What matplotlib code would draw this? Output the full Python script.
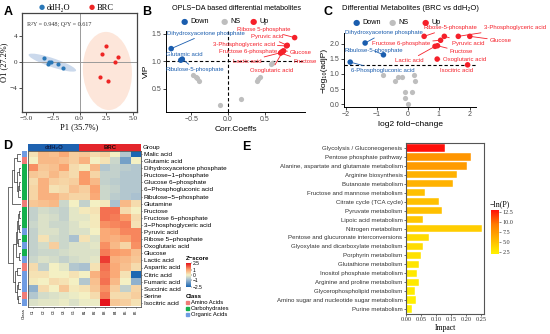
import numpy as np
import matplotlib
matplotlib.use("Agg")
import matplotlib.pyplot as plt
from matplotlib.patches import Ellipse, Rectangle
from matplotlib.colors import LinearSegmentedColormap, ListedColormap

W, H = 550, 334
SANS = ['Liberation Sans', 'DejaVu Sans']
SERIF = ['Liberation Serif', 'DejaVu Serif']

# ---- A: OPLS-DA scores ----
a_ctrl_x = [-3.38, -3.00, -2.82, -2.69, -1.98, -1.51]
a_ctrl_y = [0.56, -0.30, 0.00, 0.05, -0.30, -0.92]
a_brc_x = [2.48, 2.13, 3.66, 3.32, 1.92, 2.63]
a_brc_y = [2.36, 1.18, 0.82, 0.00, -2.26, -2.87]

# ---- B: VIP vs correlation ----
b_names = ["Dihydroxyacetone phosphate", "Glutamic acid", "Ribulose-5-phosphate",
           "Ribose 5-phosphate", "Pyruvic acid", "3-Phosphoglyceric acid",
           "Fructose 6-phosphate", "Lactic acid", "Oxoglutaric acid", "Glucose", "Fructose"]
b_corr = [-0.77, -0.64, -0.62, 0.90, 0.80, 0.79, 0.73, 0.72, 0.74, 0.75, 0.71]
b_vip = [1.23, 1.02, 1.04, 1.43, 1.29, 1.28, 1.17, 1.16, 1.18, 1.19, 1.15]
b_status = ["Down"] * 3 + ["Up"] * 8
b_ns_corr = [-0.47, -0.42, -0.39, -0.44, -0.11, 0.17, 0.39, 0.41, 0.43, 0.59, 0.58]
b_ns_vip = [0.76, 0.70, 0.64, 0.72, 0.20, 0.32, 0.65, 0.68, 0.72, 0.97, 0.95]
# label anchor (text position in data units), ha
b_lab = [(-0.82, 1.51, 'left'), (-0.84, 1.13, 'left'), (-0.84, 0.85, 'left'),
         (0.84, 1.58, 'right'), (0.75, 1.45, 'right'), (0.63, 1.31, 'right'),
         (0.67, 1.18, 'right'), (0.45, 1.00, 'right'), (0.30, 0.84, 'left'),
         (0.84, 1.16, 'left'), (0.88, 1.00, 'left')]

# ---- C: volcano ----
c_names = ["Dihydroxyacetone phosphate", "Ribulose-5-phosphate", "6-Phosphogluconic acid",
           "Ribose-5-phosphate", "Pyruvic acid", "3-Phosphoglyceric acid", "Glucose",
           "Fructose 6-phosphate", "Fructose", "Lactic acid", "Oxoglutaric acid", "Isocitric acid"]
c_fc = [-1.37, -0.78, -1.85, 0.53, 1.18, 1.63, 2.00, 1.06, 0.96, 0.88, 0.95, 1.93]
c_p = [2.02, 1.63, 1.39, 2.24, 2.24, 2.24, 2.24, 2.11, 1.93, 1.91, 1.49, 1.30]
c_status = ["Down"] * 3 + ["Up"] * 9
c_ns_fc = [-0.78, -0.41, -0.30, -0.19, 0.21, 0.23, -0.09, 0.15, -0.09, 0.02]
c_ns_p = [0.95, 0.77, 0.89, 0.89, 0.95, 0.77, 0.40, 0.40, 0.22, 0.02]
c_lab = [(-2.02, 2.36, 'left'), (-2.02, 1.76, 'left'), (-1.82, 1.10, 'left'),
         (0.50, 2.53, 'left'), (1.42, 2.02, 'left'), (2.45, 2.53, 'left'),
         (2.65, 2.10, 'left'), (0.72, 2.00, 'right'), (1.36, 1.73, 'left'),
         (0.50, 1.43, 'right'), (1.13, 1.47, 'left'), (1.04, 1.12, 'left')]

# ---- D: heatmap ----
d_rows = ["Malic acid", "Glutamic acid", "Dihydroxyacetone phosphate", "Fructose\u22121\u2212phosphate",
          "Glucose 6\u2212phosphate", "6\u2212Phosphogluconic acid", "Ribulose\u22125\u2212phosphate",
          "Glutamine", "Fructose", "Fructose 6\u2212phosphate", "3\u2212Phosphoglyceric acid",
          "Pyruvic acid", "Ribose 5\u2212phosphate", "Oxoglutaric acid", "Glucose", "Lactic acid",
          "Aspartic acid", "Citric acid", "Fumaric acid", "Succinic acid", "Serine", "Isocitric acid"]
d_class = ["Organic Acids", "Amino Acids", "Carbohydrates", "Carbohydrates", "Carbohydrates",
           "Carbohydrates", "Carbohydrates", "Amino Acids", "Carbohydrates", "Carbohydrates",
           "Carbohydrates", "Organic Acids", "Carbohydrates", "Organic Acids", "Carbohydrates",
           "Organic Acids", "Amino Acids", "Organic Acids", "Organic Acids", "Organic Acids",
           "Amino Acids", "Organic Acids"]
d_groups = ["ddH2O"] * 5 + ["BRC"] * 6
d_cols = ["C1", "C2", "C3", "C4", "C5", "B1", "B2", "B3", "B4", "B5", "B6"]
d_z = [
    [0.2, 0.8, 0.7, 1.0, 0.5, 0.6, 0.3, 0.5, 0.0, -0.8, -2.5],
    [0.0, 0.8, 0.8, 0.7, 0.5, 0.9, 0.0, 0.2, -0.5, -1.5, 0.0],
    [1.3, 0.6, 0.7, 1.1, 0.3, 0.1, 0.8, -0.8, -0.6, -0.7, -0.8],
    [0.6, 0.5, 0.8, 0.5, 0.3, 1.2, 0.4, -0.6, -0.6, -0.8, -0.8],
    [0.3, 0.9, 0.5, 0.4, 0.5, 1.2, 0.8, -0.6, -0.7, -0.8, -0.8],
    [0.4, 0.9, 0.2, 0.3, 0.7, 0.5, 1.1, -0.5, -0.6, -0.8, -0.8],
    [0.4, 0.9, 0.9, 0.6, 0.4, 0.4, 1.0, -0.5, -0.7, -0.8, -0.9],
    [0.6, 0.7, 0.8, -0.5, 0.0, -0.6, 0.0, 0.1, -0.9, 0.8, 0.3],
    [-0.6, -0.4, -0.5, -0.6, -0.2, 0.1, 0.2, 1.6, 1.6, 0.3, 0.0],
    [-0.6, -0.3, -0.4, -0.6, -0.2, -0.2, 0.1, 1.6, 1.5, 1.2, 0.3],
    [-0.5, -0.3, -0.5, -0.5, -0.3, -0.1, 0.1, 1.3, 1.4, 1.5, 0.2],
    [-0.6, -0.3, -0.3, -0.5, -0.3, -0.3, 0.0, 1.0, 1.1, 1.4, 1.4],
    [-0.6, 0.2, -0.4, -0.5, -0.9, 0.2, -0.3, 1.0, 0.9, 1.1, 1.4],
    [-0.6, -0.4, 0.5, -0.5, -0.3, -0.3, -0.2, 1.3, 0.8, 0.4, 1.3],
    [-0.6, -0.5, -0.5, -0.4, -0.3, -0.3, -0.3, 1.5, 1.2, 1.1, 0.7],
    [-0.5, -0.3, -0.4, -0.6, -0.4, -0.3, -0.2, 2.1, 0.9, 0.8, 0.6],
    [0.3, -0.6, 0.0, -0.2, -0.8, -0.9, 0.2, 1.6, 1.0, 0.7, 0.3],
    [0.2, 0.2, 0.0, 0.0, 0.2, 0.0, 0.9, 1.5, 1.0, 0.2, -2.5],
    [0.1, 0.0, 0.3, 0.2, 0.0, -0.8, 0.7, 1.6, 0.8, 0.0, -1.2],
    [-1.2, 0.3, 0.0, 0.6, 0.1, 0.2, 0.6, 1.3, 0.5, -0.6, 0.4],
    [-0.8, -0.4, -0.3, -0.2, -0.1, 0.0, 0.3, 1.5, 0.3, 0.3, 0.5],
    [-0.3, -0.2, -0.2, -0.1, -0.3, -0.1, -0.1, 2.5, 0.6, 0.5, 0.2],
]
# row dendrogram merges: (node_a, node_b, height); leaves 0..21, new nodes from 22
d_merges = [(0, 1, 0.35), (2, 3, 0.15), (4, 5, 0.12), (24, 6, 0.2), (23, 25, 0.32),
            (22, 26, 0.55), (27, 7, 0.7), (8, 9, 0.12), (10, 11, 0.15), (29, 30, 0.25),
            (12, 13, 0.2), (31, 32, 0.35), (14, 15, 0.18), (33, 34, 0.42), (16, 17, 0.3),
            (18, 19, 0.22), (20, 21, 0.25), (37, 38, 0.35), (36, 39, 0.45), (35, 40, 0.6),
            (28, 41, 1.0)]

# ---- E: pathway impact ----
e_paths = ["Glycolysis / Gluconeogenesis", "Pentose phosphate pathway",
           "Alanine, aspartate and glutamate metabolism", "Arginine biosynthesis",
           "Butanoate metabolism", "Fructose and mannose metabolism", "Citrate cycle (TCA cycle)",
           "Pyruvate metabolism", "Lipoic acid metabolism", "Nitrogen metabolism",
           "Pentose and glucuronate interconversions", "Glyoxylate and dicarboxylate metabolism",
           "Porphyrin metabolism", "Glutathione metabolism", "Inositol phosphate metabolism",
           "Arginine and proline metabolism", "Glycerophospholipid metabolism",
           "Amino sugar and nucleotide sugar metabolism", "Purine metabolism"]
e_impact = [0.129, 0.218, 0.204, 0.171, 0.157, 0.064, 0.109, 0.120, 0.055, 0.252,
            0.077, 0.055, 0.050, 0.041, 0.036, 0.044, 0.030, 0.033, 0.019]
e_nlp = [12.8, 7.6, 7.2, 5.9, 5.8, 5.0, 5.0, 5.0, 4.6, 4.2,
         3.4, 3.3, 3.0, 2.8, 2.6, 2.6, 2.4, 2.3, 2.1]
e_highlight = 3

C_DOWN, C_NS, C_UP = '#1A5DAE', '#BEBEBE', '#F5202A'
C_CTRL, C_BRC = '#2A78B8', '#EE2524'

fig = plt.figure(figsize=(W / 100, H / 100), dpi=100)


def ax_px(x0, y0, x1, y1):
    return fig.add_axes([x0 / W, 1 - y1 / H, (x1 - x0) / W, (y1 - y0) / H])


def ftext(x, y, s, **kw):
    return fig.text(x / W, 1 - y / H, s, **kw)


# ================= A =================
axA = ax_px(22, 13, 137, 112)
axA.add_patch(Ellipse((-2.55, -0.12), 5.1, 1.25, angle=-30, facecolor='#CBD9EC',
                      edgecolor='none', zorder=0))
axA.add_patch(Ellipse((2.62, -1.4), 4.6, 12.0, angle=1.5, facecolor='#FDE6DA',
                      edgecolor='none', zorder=0))
axA.axhline(0, color='#9A9A9A', lw=0.7, zorder=1)
axA.axvline(0, color='#9A9A9A', lw=0.7, zorder=1)
axA.scatter(a_ctrl_x, a_ctrl_y, s=9, color=C_CTRL, zorder=3, linewidths=0)
axA.scatter(a_brc_x, a_brc_y, s=9, color=C_BRC, zorder=3, linewidths=0)
axA.set_xlim(-5.4, 5.4)
axA.set_ylim(-7.7, 7.5)
axA.set_xticks([-5, -2.5, 0, 2.5, 5])
axA.set_yticks([-4, 0, 4])
axA.set_xticklabels(['\u22125.0', '\u22122.5', '0.0', '2.5', '5.0'])
axA.set_yticklabels(['\u22124', '0', '4'])
axA.tick_params(labelsize=5.2, length=2, width=0.6, pad=1.2, colors='#333333')
for lbl in axA.get_xticklabels() + axA.get_yticklabels():
    lbl.set_family(SERIF)
for sp in axA.spines.values():
    sp.set_color('#444444')
    sp.set_linewidth(0.9)
axA.set_xlabel('P1 (35.7%)', family=SERIF, fontsize=6, labelpad=1)
axA.set_ylabel('O1 (27.2%)', family=SERIF, fontsize=6, labelpad=1)
axA.text(0.04, 0.88, 'R\u00b2Y = 0.948; Q\u00b2Y = 0.617', transform=axA.transAxes,
         family=SERIF, fontsize=4.4, color='#333333', va='center')
ftext(42, 7.5, '\u25cf', color=C_CTRL, fontsize=5, ha='center', va='center')
ftext(46.5, 7.5, 'ddH\u2082O', family=SERIF, fontsize=6, va='center')
ftext(92, 7.5, '\u25cf', color=C_BRC, fontsize=5, ha='center', va='center')
ftext(97, 7.5, 'BRC', family=SERIF, fontsize=6, va='center')

# ================= B / C =================
def style_gg(ax):
    for s in ['top', 'right']:
        ax.spines[s].set_visible(False)
    for s in ['left', 'bottom']:
        ax.spines[s].set_linewidth(0.7)
    ax.tick_params(labelsize=5, length=2, width=0.6, pad=1.2, colors='#222222')
    for lbl in ax.get_xticklabels() + ax.get_yticklabels():
        lbl.set_family(SANS)
        lbl.set_color('#4D4D4D')


def legend_row(y, xs):
    for (x, lab, col) in zip(xs, ['Down', 'NS', 'Up'], [C_DOWN, C_NS, C_UP]):
        ftext(x, y, '\u25cf', color=col, fontsize=6, ha='center', va='center')
        ftext(x + 6, y, lab, family=SANS, fontsize=5.2, va='center')


def label_points(ax, xs, ys, names, status, labs, fs=4.3):
    for x, y, n, st, (tx, ty, ha) in zip(xs, ys, names, status, labs):
        col = C_DOWN if st == 'Down' else C_UP
        ax.annotate(n, xy=(x, y), xytext=(tx, ty), ha=ha, va='center', fontsize=fs,
                    family=SANS, color=col, annotation_clip=False,
                    arrowprops=dict(arrowstyle='-', color=col, lw=0.6,
                                    shrinkA=0, shrinkB=1.5))


axB = ax_px(166, 31, 305, 112)
axB.axhline(1.0, color='black', lw=0.8, ls=(0, (3, 2)), zorder=1)
axB.axvline(0.0, color='black', lw=0.8, ls=(0, (3, 2)), zorder=1)
axB.scatter(b_ns_corr, b_ns_vip, s=14, color=C_NS, zorder=2, linewidths=0)
bcols = [C_DOWN if s == 'Down' else C_UP for s in b_status]
axB.scatter(b_corr, b_vip, s=16, color=bcols, zorder=3, linewidths=0)
label_points(axB, b_corr, b_vip, b_names, b_status, b_lab)
axB.set_xlim(-0.84, 1.04)
axB.set_ylim(0.08, 1.55)
axB.set_xticks([-0.5, 0.0, 0.5])
axB.set_xticklabels(['\u22120.5', '0.0', '0.5'])
axB.set_yticks([0.5, 1.0, 1.5])
style_gg(axB)
axB.set_xlabel('Corr.Coeffs', family=SANS, fontsize=6, labelpad=1.5)
axB.set_ylabel('VIP', family=SANS, fontsize=6, labelpad=1.5)
ftext(172, 9, 'OPLS\u2212DA based differential metabolites', family=SANS, fontsize=5.25,
      va='center')
legend_row(21.5, [184, 224, 253])

axC = ax_px(344, 33, 476, 107)
axC.axhline(1.30, color='black', lw=0.8, ls=(0, (3, 2)), zorder=1)
axC.scatter(c_ns_fc, c_ns_p, s=14, color=C_NS, zorder=2, linewidths=0)
ccols = [C_DOWN if s == 'Down' else C_UP for s in c_status]
axC.scatter(c_fc, c_p, s=16, color=ccols, zorder=3, linewidths=0)
label_points(axC, c_fc, c_p, c_names, c_status, c_lab)
axC.set_xlim(-2.05, 2.2)
axC.set_ylim(-0.09, 2.35)
axC.set_xticks([-2, -1, 0, 1, 2])
axC.set_xticklabels(['\u22122', '\u22121', '0', '1', '2'])
axC.set_yticks([0, 0.5, 1.0, 1.5, 2.0])
style_gg(axC)
axC.set_xlabel('log2 fold\u2212change', family=SANS, fontsize=6, labelpad=1.5)
axC.set_ylabel('\u2212log\u2081\u2080(adjP)', family=SANS, fontsize=6, labelpad=1.5)
ftext(342, 8, 'Differential Metabolites (BRC vs ddH\u2082O)', family=SANS, fontsize=5.5,
      va='center')
legend_row(22, [356, 392, 425])

# ================= D =================
hm_cmap = LinearSegmentedColormap.from_list(
    'hm', [(0.0, '#1C67B2'), (0.3, '#A3BDD2'), (0.5, '#F4F1C4'), (0.73, '#FBA16D'),
           (1.0, '#E6131B')])
class_colors = {'Amino Acids': '#F07C78', 'Carbohydrates': '#14B04C', 'Organic Acids': '#6F9BE2'}
group_colors = {'ddH2O': '#1E62B0', 'BRC': '#E4262B'}

Z = np.array(d_z)
nrow, ncol = Z.shape
axD = ax_px(28, 150.5, 141, 306.5)
axD.imshow(Z, cmap=hm_cmap, vmin=-2.5, vmax=2.5, aspect='auto', interpolation='nearest')
axD.set_yticks(range(nrow))
axD.set_yticklabels(d_rows, family=SANS, fontsize=4.6)
axD.yaxis.tick_right()
axD.set_xticks(range(ncol))
axD.set_xticklabels(d_cols, family=SANS, fontsize=2.6, rotation=90)
axD.tick_params(length=1, width=0.4, pad=1)
for sp in axD.spines.values():
    sp.set_color('#555555')
    sp.set_linewidth(0.6)

axG = ax_px(28, 143.5, 141, 150.5)
gcodes = [0 if g == 'ddH2O' else 1 for g in d_groups]
axG.imshow([gcodes], cmap=ListedColormap([group_colors['ddH2O'], group_colors['BRC']]),
           vmin=0, vmax=1, aspect='auto', interpolation='nearest')
axG.set_xticks([])
axG.set_yticks([0])
axG.set_yticklabels(['Group'], family=SANS, fontsize=4.6)
axG.yaxis.tick_right()
axG.tick_params(length=0, pad=1.5)
for sp in axG.spines.values():
    sp.set_visible(False)
n_ctrl = d_groups.count('ddH2O')
axG.text((n_ctrl - 1) / 2, 0, 'ddH\u2082O', ha='center', va='center', fontsize=4.3,
         family=SANS, fontweight='bold', color='#10204A')
axG.text(n_ctrl + (ncol - n_ctrl - 1) / 2, 0, 'BRC', ha='center', va='center', fontsize=4.3,
         family=SANS, fontweight='bold', color='#2A0A0A')

class_names = list(class_colors)
axK = ax_px(21.5, 150.5, 26.5, 306.5)
kcodes = [[class_names.index(c)] for c in d_class]
axK.imshow(kcodes, cmap=ListedColormap([class_colors[c] for c in class_names]), vmin=0,
           vmax=2, aspect='auto', interpolation='nearest')
axK.set_yticks([])
axK.set_xticks([0])
axK.set_xticklabels(['Class'], rotation=90, family=SANS, fontsize=3.2)
axK.tick_params(length=0, pad=1)
for sp in axK.spines.values():
    sp.set_visible(False)

# row dendrogram
axT = ax_px(8, 150.5, 21, 306.5)
pos = {i: (float(i), 0.0) for i in range(nrow)}
for k, (a, b, h) in enumerate(d_merges):
    ya, ha_ = pos[a]
    yb, hb = pos[b]
    axT.plot([-ha_, -h, -h, -hb], [ya, ya, yb, yb], color='#333333', lw=0.5)
    pos[nrow + k] = ((ya + yb) / 2, h)
axT.set_ylim(nrow - 0.5, -0.5)
axT.set_xlim(-1.02, 0)
axT.axis('off')

# D legends
ftext(186, 258, 'Z\u2212score', family=SANS, fontsize=4.3, fontweight='bold', va='center')
axZ = ax_px(186, 263, 190.5, 287)
axZ.imshow(np.linspace(2.5, -2.5, 100)[:, None], cmap=hm_cmap, vmin=-2.5, vmax=2.5,
           aspect='auto', extent=[0, 1, -2.5, 2.5])
axZ.set_xticks([])
axZ.yaxis.tick_right()
axZ.set_yticks([-2.5, -1, 0, 1, 2.5])
axZ.set_yticklabels(['\u22122.5', '\u22121', '0', '1', '2.5'], family=SANS, fontsize=3.6)
axZ.tick_params(length=1, width=0.3, pad=0.8)
for sp in axZ.spines.values():
    sp.set_visible(False)
ftext(186, 296, 'Class', family=SANS, fontsize=4.3, fontweight='bold', va='center')
for i, c in enumerate(class_names):
    yy = 302.5 + i * 6
    fig.patches.append(Rectangle((185.5 / W, 1 - (yy + 1.8) / H), 3.6 / W, 3.6 / H,
                                 transform=fig.transFigure, color=class_colors[c]))
    ftext(191, yy, c, family=SANS, fontsize=4.2, va='center')

# ================= E =================
e_cmap = LinearSegmentedColormap.from_list('e', ['#FFF200', '#FFB400', '#FF7A00', '#FF0A0A'])
vmin, vmax = 2.0, 13.0
axE = ax_px(406, 143, 484, 314)
ypos = np.arange(len(e_paths))
axE.barh(ypos, e_impact, height=0.82, color=e_cmap((np.array(e_nlp) - vmin) / (vmax - vmin)),
         edgecolor='white', linewidth=0.3)
axE.set_ylim(len(e_paths) - 0.45, -0.55)
axE.set_xlim(-0.001, 0.26)
axE.set_yticks(ypos)
axE.set_yticklabels(e_paths, family=SANS, fontsize=4.4)
for i, lbl in enumerate(axE.get_yticklabels()):
    lbl.set_color(C_UP if i < e_highlight else '#222222')
axE.set_xticks([0, 0.05, 0.10, 0.15, 0.20, 0.25])
axE.set_xticklabels(['0.00', '0.05', '0.10', '0.15', '0.20', '0.25'], family=SERIF,
                    fontsize=4.6)
axE.tick_params(length=1.5, width=0.5, pad=1, colors='#333333')
for sp in axE.spines.values():
    sp.set_color('#555555')
    sp.set_linewidth(0.8)
axE.set_xlabel('Impact', family=SERIF, fontsize=5.6, labelpad=1)

ftext(490, 204, '\u2212ln(P)', family=SERIF, fontsize=5.8, va='center')
axL = ax_px(491, 210, 499, 254)
axL.imshow(np.linspace(vmax, vmin, 100)[:, None], cmap=e_cmap, vmin=vmin, vmax=vmax,
           aspect='auto', extent=[0, 1, vmin, vmax])
axL.set_xticks([])
axL.yaxis.tick_right()
axL.set_yticks([2.5, 5.0, 7.5, 10.0, 12.5])
axL.set_yticklabels(['2.5', '5.0', '7.5', '10.0', '12.5'], family=SERIF, fontsize=4.4)
axL.tick_params(length=1.5, width=0.4, pad=1, colors='#333333')
for sp in axL.spines.values():
    sp.set_visible(False)

# panel letters
for (x, y, s) in [(4, 12, 'A'), (142, 12, 'B'), (323, 12, 'C'), (3, 146, 'D'), (242, 147, 'E')]:
    ftext(x, y, s, family=SANS, fontsize=9, fontweight='bold', va='center')

fig.savefig('out.png', dpi=100)
